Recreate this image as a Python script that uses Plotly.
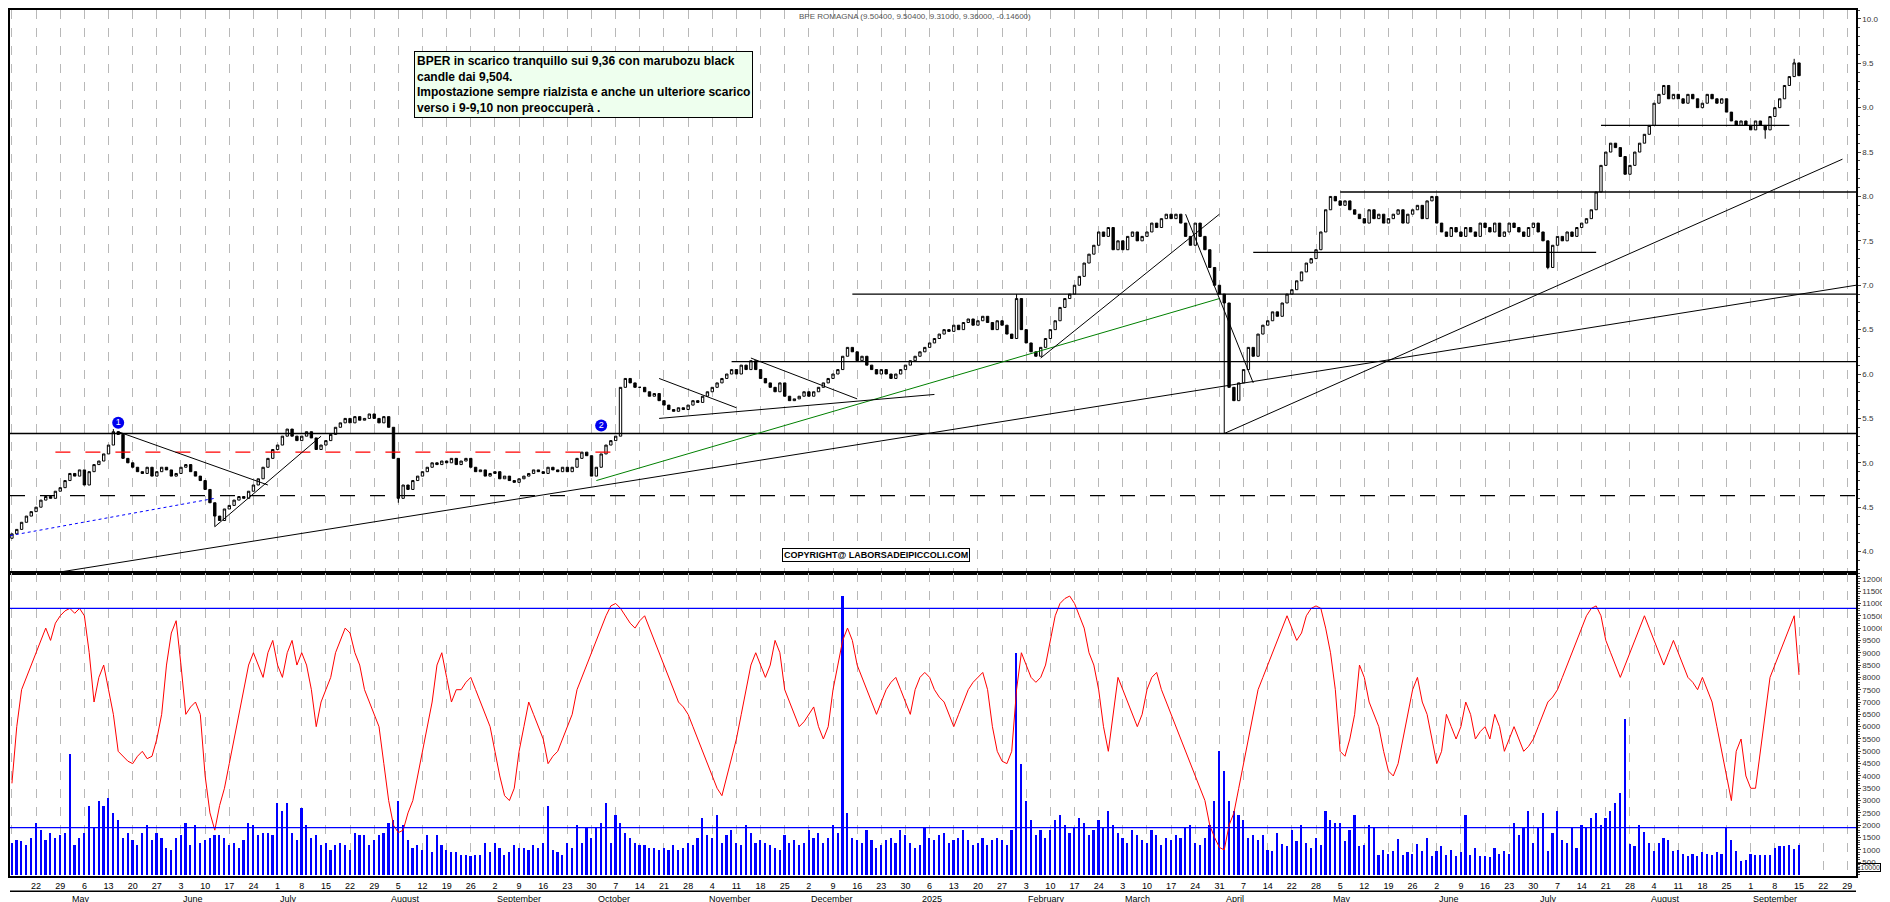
import plotly.graph_objects as go
from plotly.subplots import make_subplots

# daily closes, one row per week (Apr 15 2024 -> Sep 15 2025)
closes = [
    4.20, 4.25, 4.33, 4.40, 4.45,
    4.50, 4.58, 4.62, 4.60, 4.68,
    4.72, 4.80, 4.88, 4.85, 4.92,
    4.75, 4.90, 4.98, 5.02, 5.10,
    5.20, 5.35, 5.32, 5.05, 5.00,
    4.95, 4.90, 4.88, 4.95, 4.85,
    4.90, 4.95, 4.92, 4.85, 4.88,
    4.95, 4.98, 4.90, 4.85, 4.80,
    4.70, 4.55, 4.40, 4.35, 4.48,
    4.52, 4.58, 4.62, 4.60, 4.68,
    4.75, 4.82, 4.95, 5.05, 5.15,
    5.20, 5.30, 5.38, 5.30, 5.25,
    5.30, 5.35, 5.28, 5.15, 5.20,
    5.25, 5.32, 5.40, 5.45, 5.50,
    5.45, 5.52, 5.48, 5.50, 5.55,
    5.50, 5.45, 5.52, 5.40, 5.05,
    4.60, 4.75, 4.70, 4.80, 4.85,
    4.90, 4.95, 5.00, 4.98, 5.02,
    5.00, 5.05, 4.98, 5.02, 5.05,
    4.95, 4.90, 4.92, 4.85, 4.88,
    4.90, 4.82, 4.85, 4.80, 4.78,
    4.82, 4.85, 4.88, 4.92, 4.90,
    4.88, 4.95, 4.92, 4.90, 4.95,
    4.90, 4.95, 5.05, 5.12, 5.08,
    4.85, 4.95, 5.10, 5.20, 5.25,
    5.30, 5.85, 5.95, 5.90, 5.85,
    5.85, 5.80, 5.75, 5.78, 5.70,
    5.65, 5.60, 5.58, 5.62, 5.60,
    5.65, 5.70, 5.68, 5.75, 5.80,
    5.85, 5.90, 5.95, 6.00, 6.05,
    6.00, 6.10, 6.05, 6.15, 6.05,
    5.95, 5.90, 5.85, 5.80, 5.90,
    5.75, 5.70, 5.72, 5.75, 5.80,
    5.75, 5.80, 5.85, 5.90, 5.95,
    6.00, 6.05, 6.20, 6.30, 6.25,
    6.15, 6.20, 6.10, 6.05, 6.00,
    6.05, 6.00, 5.95, 6.00, 6.05,
    6.10, 6.15, 6.20, 6.25, 6.30,
    6.35, 6.40, 6.45, 6.50, 6.48,
    6.55, 6.50, 6.58, 6.62, 6.55,
    6.60, 6.65, 6.58, 6.50, 6.60,
    6.55, 6.45, 6.40, 6.85, 6.50,
    6.35, 6.25, 6.20, 6.30, 6.40,
    6.50, 6.60, 6.75, 6.85, 6.90,
    7.00, 7.10, 7.25, 7.35, 7.45,
    7.60, 7.55, 7.65, 7.40, 7.50,
    7.40, 7.55, 7.60, 7.50, 7.55,
    7.60, 7.70, 7.65, 7.75, 7.80,
    7.75, 7.80, 7.70, 7.55, 7.45,
    7.70, 7.55, 7.40, 7.20, 7.00,
    6.90, 6.80, 5.85, 5.70, 5.90,
    6.05, 6.30, 6.20, 6.45, 6.55,
    6.60, 6.70, 6.65, 6.80, 6.90,
    6.95, 7.05, 7.15, 7.25, 7.30,
    7.40, 7.60, 7.85, 8.00, 7.95,
    7.90, 7.95, 7.85, 7.80, 7.75,
    7.70, 7.85, 7.75, 7.80, 7.70,
    7.75, 7.80, 7.85, 7.70, 7.80,
    7.85, 7.90, 7.75, 7.95, 8.00,
    7.70, 7.60, 7.55, 7.65, 7.60,
    7.55, 7.65, 7.60, 7.55, 7.70,
    7.65, 7.60, 7.70, 7.55, 7.60,
    7.70, 7.65, 7.60, 7.55, 7.65,
    7.70, 7.60, 7.50, 7.20, 7.45,
    7.55, 7.50, 7.60, 7.55, 7.65,
    7.70, 7.75, 7.85, 8.05, 8.35,
    8.50, 8.60, 8.55, 8.45, 8.25,
    8.35, 8.50, 8.60, 8.70, 8.80,
    9.05, 9.15, 9.25, 9.10, 9.15,
    9.10, 9.05, 9.15, 9.10, 9.00,
    9.05, 9.15, 9.10, 9.05, 9.10,
    8.95, 8.85, 8.80, 8.85, 8.80,
    8.75, 8.85, 8.80, 8.75, 8.90,
    9.00, 9.10, 9.25, 9.35, 9.504,
    9.36,
]
first_open = 4.15
wick_lows = {251: 5.33, 42: 4.28, 80: 4.55, 318: 7.18, 363: 8.65}
wick_highs = {208: 6.90, 21: 5.38, 369: 9.55}

# volume (x10000) and red oscillator, same scale in lower pane
volume = [
    1300, 1400, 1350, 1200, 1500, 2100, 1800, 1400, 1700, 1500,
    1600, 1700, 4900, 1200, 1500, 1700, 2800, 1900, 3000, 2800,
    3100, 2500, 2200, 1500, 1700, 1400, 1200, 1700, 2000, 1400,
    1700, 1500, 1100, 1000, 1500, 1600, 2100, 1200, 2000, 1300,
    1400, 1500, 1600, 1600, 1500, 1200, 1300, 1100, 1400, 2100,
    2000, 1600, 1700, 1700, 1600, 2900, 2600, 2900, 1700, 1400,
    2700, 2000, 1500, 1600, 1200, 1300, 1000, 1200, 1300, 1200,
    1000, 1700, 1600, 1600, 1200, 1400, 1600, 1700, 2100, 2200,
    3000, 2000, 1400, 1100, 1200, 1000, 1600, 900, 1600, 1200,
    1000, 900, 900, 800, 800, 750, 800, 800, 1300, 900,
    1300, 1100, 800, 900, 1200, 1100, 1100, 1000, 1200, 1100,
    1300, 2800, 1000, 900, 800, 1300, 1100, 2000, 1300, 1900,
    1500, 1900, 2100, 2900, 1300, 2400, 2100, 1700, 1500, 1300,
    1200, 1200, 1100, 1100, 1000, 1100, 1000, 1200, 1000, 1100,
    1300, 1200, 1500, 2300, 1600, 1500, 2400, 1300, 1600, 1800,
    1300, 1200, 2000, 1700, 1300, 1400, 1300, 1200, 1100, 1000,
    1600, 1300, 1400, 1200, 1300, 1800, 1500, 1700, 1300, 1500,
    2000, 1700, 11300, 2500, 1500, 1400, 1300, 1800, 1400, 1100,
    1200, 1400, 1500, 1300, 1800, 1600, 1300, 1100, 1200, 1900,
    1500, 1400, 1600, 1700, 1300, 1400, 1500, 1800, 1400, 1200,
    1300, 1500, 1200, 1400, 1500, 1400, 1200, 1800, 9000, 4500,
    3000, 2200, 1600, 1800, 1500, 1800, 2200, 2400, 2000, 1700,
    1900, 2300, 2100, 1600, 1800, 2200, 1900, 2600, 2000, 1700,
    1500, 1300, 1800, 1600, 1400, 1300, 1800, 1600, 1200, 1500,
    1400, 1600, 1500, 1900, 2000, 1300, 1200, 1500, 2000, 3000,
    5000, 4200, 3000, 2600, 2400, 2200, 1500, 1600, 1400, 1600,
    1000, 950, 1700, 1250, 1150, 1800, 1350, 2000, 1300, 1100,
    1500, 1200, 2600, 2200, 2100, 2100, 1350, 1800, 2400, 1150,
    1200, 2000, 1950, 800, 1000, 850, 950, 1450, 800, 900,
    850, 1250, 950, 1500, 750, 950, 1150, 800, 1000, 750,
    900, 2400, 800, 1100, 750, 750, 700, 1100, 850, 950,
    850, 2100, 1600, 1900, 2600, 1300, 1900, 2500, 950, 1700,
    2600, 1400, 1300, 1900, 1100, 2000, 1950, 2300, 2500, 2000,
    2300, 2600, 2900, 3300, 6300, 1250, 1150, 2000, 1750, 1300,
    950, 1300, 1500, 1400, 950, 1000, 850, 750, 850, 750,
    900, 850, 800, 900, 850,
    1900, 1400, 950, 550, 600, 850, 800, 800, 800, 800,
    1100, 1150, 1150, 1200, 1050, 1200,
]
oscillator = [
    3700, 6000, 7500, 8000, 8500, 9000, 9500, 10000, 9500, 10200,
    10500, 10700, 10800, 10600, 10800, 10500, 9000, 7000, 8000, 8500,
    7500, 6500, 5000, 4800, 4600, 4500, 4800, 5000, 4700, 4800,
    5500, 6500, 8500, 9800, 10300, 8500, 6500, 6800, 7000, 6500,
    4000, 2500, 1800, 2800, 3500, 4500, 5500, 6500, 7500, 8500,
    9000, 8500, 8000, 9000, 9500, 8500, 8000, 9000, 9500, 8500,
    9000, 8500, 7500, 6000, 7000, 7500, 8000, 9000, 9500, 10000,
    9800, 9000, 8500, 7500, 7000, 6500, 6000, 4500, 3000, 2000,
    1700, 1800, 2500, 3000, 4000, 5000, 6000, 7000, 8500, 9000,
    8000, 7000, 7500, 7500, 7800, 8000, 7500, 7000, 6500, 6000,
    5000, 4000, 3200, 3000, 3500, 5000, 6000, 7000, 6500, 6000,
    5500, 4500, 4800, 5000, 5500, 6000, 6500, 7500, 8000, 8500,
    9000, 9500, 10000, 10500, 10900, 11000, 10800, 10500, 10200, 10000,
    10300, 10500, 10000, 9500, 9000, 8500, 8000, 7500, 7000, 6800,
    6500, 6000, 5500, 5000, 4500, 4000, 3500, 3200, 4000, 4800,
    5500, 6500, 7500, 8500, 9000, 8500, 8000, 8500, 9500, 9000,
    7500, 7000, 6500, 6000, 6200, 6500, 6800, 6000, 5500, 6000,
    7500, 8500, 9500, 10000, 9500, 8500, 8000, 7500, 7000, 6500,
    7000, 7500, 7800, 8000, 7500, 7000, 6500, 7500, 8000, 8200,
    8000, 7500, 7200, 7000, 6500, 6000, 6500, 7000, 7500, 7800,
    8000, 8200, 7500, 6000, 5000, 4600, 4500, 5000, 7500, 9000,
    8500, 8000, 7800, 8000, 8500, 9500, 10500, 11000, 11200, 11300,
    11000, 10500, 10000, 9000, 8500, 7500, 6000, 5000, 6500, 8000,
    7500, 7000, 6500, 6000, 6500, 7500, 8000, 8200, 7500, 7000,
    6500, 6000, 5500, 5000, 4500, 4000, 3500, 3000, 2000, 1500,
    1100, 1000, 2000, 2500, 3500, 4500, 5500, 6500, 7500, 8000,
    8500, 9000, 9500, 10000, 10500, 10000, 9500, 9800, 10500, 10800,
    10900, 10800, 10000, 9000, 7500, 5000, 4800, 5500, 6500, 8500,
    8000, 7000, 6500, 6000, 5000, 4200, 4000, 4500, 5500, 6500,
    7500, 8000, 7000, 6500, 5500, 4500, 5000, 6500, 6000, 5500,
    6000, 7000, 6500, 5500, 5800, 6000, 5500, 6500, 6000, 5000,
    5500, 6000, 5500, 5000, 5200, 5500, 6000, 6500, 7000, 7200,
    7500, 8000, 8500, 9000, 9500, 10000, 10500, 10800, 10900, 10500,
    9500, 9000, 8500, 8000, 8500, 9000, 9500, 10000, 10500, 10000,
    9500, 9000, 8500, 9000, 9500, 9000, 8500, 8000, 7800, 7500,
    8000, 7500, 7000, 6000, 5000, 4000, 3000, 5000, 5500, 4000,
    3500, 3500, 5000, 6500, 8000, 8500, 9000, 9500, 10000, 10500,
    8100,
]

day_labels = ["15", "22", "29", "6", "13", "20", "27", "3", "10", "17", "24",
              "1", "8", "15", "22", "29", "5", "12", "19", "26", "2", "9", "16",
              "23", "30", "7", "14", "21", "28", "4", "11", "18", "25", "2", "9",
              "16", "23", "30", "6", "13", "20", "27", "3", "10", "17", "24", "3",
              "10", "17", "24", "31", "7", "14", "22", "28", "5", "12", "19", "26",
              "2", "9", "16", "23", "30", "7", "14", "21", "28", "4", "11", "18",
              "25", "1", "8", "15", "22", "29"]
month_labels = ["May", "June", "July", "August", "September", "October", "November",
                "December", "2025", "February", "March", "April", "May", "June",
                "July", "August", "September"]
month_pos = [12, 35, 55, 78, 100, 121, 144, 165, 188, 210, 230, 251, 273, 295, 316, 339, 360]

# drawn studies: (x0, y0, x1, y1, colour, dash)
XEND = 381.8
trendlines = [
    (-0.4, 3.68, XEND, 7.00, "black", "solid"),
    (-0.4, 4.18, 42, 4.60, "blue", "dot"),
    (22, 5.35, 53, 4.75, "black", "solid"),
    (42, 4.28, 64, 5.30, "black", "solid"),
    (121, 4.80, 250, 6.85, "green", "solid"),
    (134, 5.95, 150, 5.62, "black", "solid"),
    (134, 5.50, 191, 5.77, "black", "solid"),
    (153, 6.18, 175, 5.72, "black", "solid"),
    (213, 6.18, 250, 7.80, "black", "solid"),
    (243, 7.80, 257, 5.90, "black", "solid"),
    (251, 5.33, 379, 8.42, "black", "solid"),
]
levels = [
    (-0.4, XEND, 5.33, "black", "solid"),
    (-0.4, XEND, 4.63, "black", "longdash"),
    (9, 124, 5.12, "red", "longdash"),
    (149, XEND, 6.14, "black", "solid"),
    (174, XEND, 6.90, "black", "solid"),
    (257, 328, 7.37, "black", "solid"),
    (275, XEND, 8.05, "black", "solid"),
    (329, 368, 8.80, "black", "solid"),
]

n = len(closes)
idx = list(range(n))
opens = [first_open] + closes[:-1]
highs = [wick_highs.get(i, max(o, c)) for i, (o, c) in enumerate(zip(opens, closes))]
lows = [wick_lows.get(i, min(o, c)) for i, (o, c) in enumerate(zip(opens, closes))]

fig = make_subplots(rows=2, cols=1, shared_xaxes=True, vertical_spacing=0,
                    row_heights=[0.65, 0.35])

for x0, x1, y, col, dash in levels:
    fig.add_trace(go.Scatter(x=[x0, x1], y=[y, y], mode="lines",
                             line=dict(color=col, width=1.3, dash=dash),
                             hoverinfo="skip", showlegend=False), row=1, col=1)
for x0, y0, x1, y1, col, dash in trendlines:
    fig.add_trace(go.Scatter(x=[x0, x1], y=[y0, y1], mode="lines",
                             line=dict(color=col, width=1, dash=dash),
                             hoverinfo="skip", showlegend=False), row=1, col=1)

fig.add_trace(go.Candlestick(
    x=idx, open=opens, high=highs, low=lows, close=closes,
    increasing=dict(fillcolor="white", line=dict(color="black", width=1)),
    decreasing=dict(fillcolor="black", line=dict(color="black", width=1)),
    whiskerwidth=0, showlegend=False), row=1, col=1)

fig.add_trace(go.Scatter(x=[22, 122], y=[5.45, 5.42], mode="markers+text",
                         text=["1", "2"], textposition="middle center",
                         textfont=dict(color="white", size=9, family="Liberation Sans"),
                         marker=dict(size=12, color="#0000ee"),
                         showlegend=False, hoverinfo="skip"), row=1, col=1)

fig.add_trace(go.Bar(x=idx, y=volume, width=0.35, marker_color="blue",
                     marker_line_width=0, showlegend=False), row=2, col=1)
fig.add_trace(go.Scatter(x=idx, y=oscillator, mode="lines",
                         line=dict(color="red", width=1), showlegend=False), row=2, col=1)
for lvl in [10800, 1900]:
    fig.add_trace(go.Scatter(x=[-0.4, XEND], y=[lvl, lvl], mode="lines",
                             line=dict(color="blue", width=1.2),
                             hoverinfo="skip", showlegend=False), row=2, col=1)

week_ticks = [5 * w for w in range(len(day_labels))]
grid = dict(showgrid=True, gridcolor="#b8b8b8", griddash="dash", gridwidth=1,
            range=[-0.4, XEND], tickvals=week_ticks, zeroline=False,
            showline=True, linecolor="black", linewidth=1.5, mirror=True)
fig.update_xaxes(**grid, showticklabels=False, row=1, col=1)
fig.update_xaxes(**grid, ticktext=day_labels, ticks="", rangeslider_visible=False,
                 tickfont=dict(size=9, family="Liberation Sans", color="black"), row=2, col=1)
fig.update_xaxes(rangeslider_visible=False)

axfont = dict(size=8, family="Liberation Sans", color="#333333")
fig.update_yaxes(side="right", range=[3.76, 10.1], dtick=0.5, tickformat=".1f",
                 ticks="outside", ticklen=3, showgrid=False, zeroline=False,
                 minor=dict(ticks="outside", ticklen=2, dtick=0.1),
                 showline=True, linecolor="black", linewidth=1.5, mirror=True,
                 tickfont=axfont, row=1, col=1)
fig.update_yaxes(side="right", range=[-60, 12240], tickvals=list(range(500, 12001, 500)),
                 tickformat="d", ticks="outside", ticklen=3, showgrid=False, zeroline=False,
                 minor=dict(ticks="outside", ticklen=2, dtick=100),
                 showline=True, linecolor="black", linewidth=1.5, mirror=True,
                 tickfont=axfont, row=2, col=1)

for name, pos in zip(month_labels, month_pos):
    fig.add_annotation(x=pos, y=-0.0185, xref="x2", yref="paper", text=name,
                       showarrow=False, xanchor="left", yanchor="top",
                       font=dict(size=9, family="Liberation Sans", color="black"))
fig.add_shape(type="line", xref="paper", yref="paper", x0=0, x1=1, y0=-0.0175, y1=-0.0175,
              line=dict(color="black", width=1.5))
fig.add_annotation(x=1.0, y=0.005, xref="paper", yref="paper", xanchor="left", yanchor="bottom",
                   text="x10000", showarrow=False, bordercolor="black", borderwidth=1, borderpad=0,
                   font=dict(size=7, family="Liberation Sans", color="#333333"))

fig.add_annotation(x=0.49, y=1.0, xref="paper", yref="paper", yanchor="top",
                   text="BPE ROMAGNA (9.50400, 9.50400, 9.31000, 9.36000, -0.14600)",
                   showarrow=False, font=dict(size=8, family="Liberation Sans", color="#555555"))
fig.add_annotation(x=0.219, y=0.953, xref="paper", yref="paper", xanchor="left", yanchor="top",
                   text="<b>BPER in scarico tranquillo sui 9,36 con marubozu black<br>"
                        "candle dai 9,504.<br>"
                        "Impostazione sempre rialzista e anche un ulteriore scarico<br>"
                        "verso i 9-9,10 non preoccuperà .</b>",
                   align="left", showarrow=False, bgcolor="#eeffee", bordercolor="black",
                   borderwidth=1, borderpad=2,
                   font=dict(size=12, family="Liberation Sans Narrow, Liberation Sans", color="black"))
fig.add_annotation(x=0.469, y=0.371, xref="paper", yref="paper", xanchor="center", yanchor="middle",
                   text="<b>COPYRIGHT@ LABORSADEIPICCOLI.COM</b>", showarrow=False,
                   bgcolor="white", bordercolor="black", borderwidth=1, borderpad=1,
                   font=dict(size=9, family="Liberation Sans", color="black"))

fig.update_layout(width=1890, height=902, margin=dict(l=0, r=42, t=0, b=34),
                  paper_bgcolor="white", plot_bgcolor="white", bargap=0,
                  showlegend=False)
fig.write_html("out.html")
